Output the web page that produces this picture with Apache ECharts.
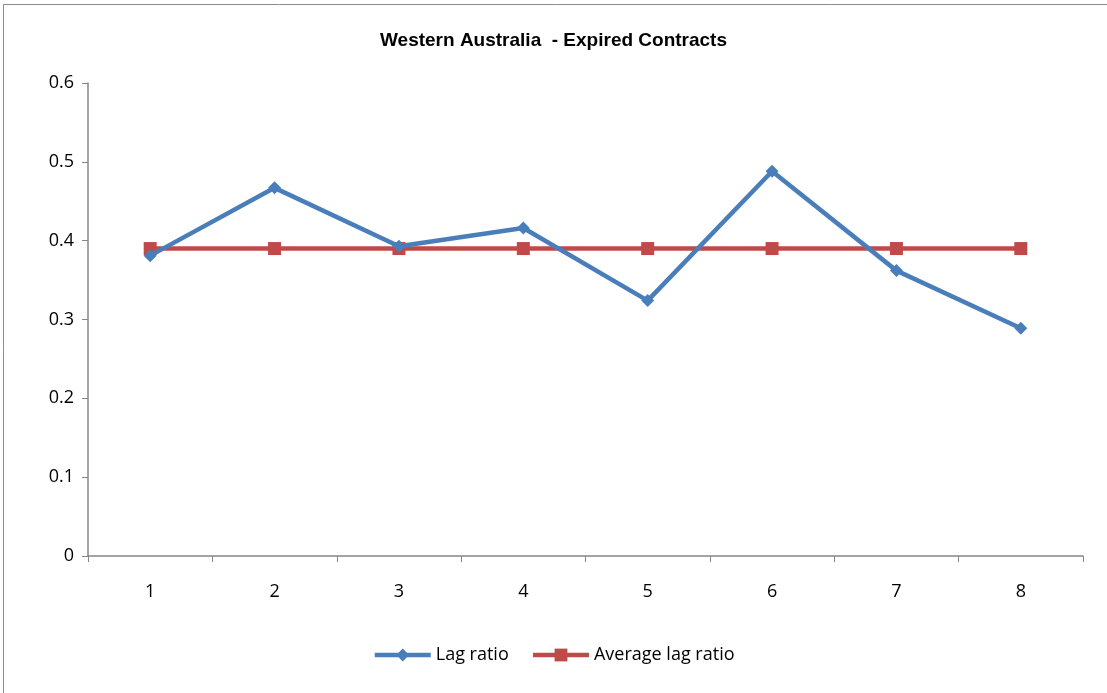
<!DOCTYPE html>
<html lang="en">
<head>
    <meta charset="UTF-8">
    <title>Western Australia - Expired Contracts</title>
    <script src="https://cdn.jsdelivr.net/npm/echarts@6/dist/echarts.min.js"></script>
</head>
<body style="margin: 0">
<div id="chart" style="width: 1107px;height: 693px"></div>
</body>

<script>
    let categories = ['1', '2', '3', '4', '5', '6', '7', '8']
    let lagRatio = [0.381, 0.467, 0.393, 0.416, 0.324, 0.488, 0.362, 0.289]
    let averageLagRatio = [0.390, 0.390, 0.390, 0.390, 0.390, 0.390, 0.390, 0.390]

    let chart = echarts.init(document.getElementById('chart'));

    let option = {
        animation: false,
        backgroundColor: '#ffffff',
        textStyle: {fontFamily: 'Open Sans'},
        title: {
            text: 'Western Australia  - Expired Contracts',
            left: 'center',
            top: 26,
            textStyle: {
                fontFamily: 'Liberation Sans',
                fontSize: 19,
                fontWeight: 'bold',
                color: '#000'
            }
        },
        graphic: [
            {
                type: 'rect',
                shape: {x: 3.5, y: 4.5, width: 1200, height: 800},
                style: {fill: 'none', stroke: '#8c8c8c', lineWidth: 1}
            }
        ],
        legend: {
            bottom: 24,
            left: 'center',
            itemWidth: 56,
            itemHeight: 16,
            itemGap: 22,
            textStyle: {fontSize: 18, color: '#000', fontFamily: 'Open Sans'},
            data: [
                {name: 'Lag ratio', lineStyle: {width: 4.5}},
                {name: 'Average lag ratio', lineStyle: {width: 4.5}}
            ]
        },
        grid: {left: 88, right: 24, top: 83, bottom: 137},
        xAxis: {
            type: 'category',
            data: categories,
            boundaryGap: true,
            axisLine: {lineStyle: {color: '#868686', width: 1.5}},
            axisTick: {show: true, alignWithLabel: false, length: 6, lineStyle: {color: '#868686'}},
            axisLabel: {fontSize: 18, color: '#000', margin: 27}
        },
        yAxis: {
            type: 'value',
            min: 0,
            max: 0.6,
            interval: 0.1,
            axisLine: {show: true, lineStyle: {color: '#868686', width: 1.5}},
            axisTick: {show: true, length: 6, lineStyle: {color: '#868686'}},
            axisLabel: {fontSize: 18, color: '#000', margin: 14},
            splitLine: {show: false}
        },
        series: [
            {
                name: 'Lag ratio',
                type: 'line',
                data: lagRatio,
                color: '#4a7ebb',
                symbol: 'diamond',
                symbolSize: 13,
                lineStyle: {width: 4.5},
                z: 3
            },
            {
                name: 'Average lag ratio',
                type: 'line',
                data: averageLagRatio,
                color: '#be4b48',
                symbol: 'rect',
                symbolSize: 13,
                lineStyle: {width: 4.5},
                z: 2
            }
        ]
    };
    chart.setOption(option);
</script>

</html>
